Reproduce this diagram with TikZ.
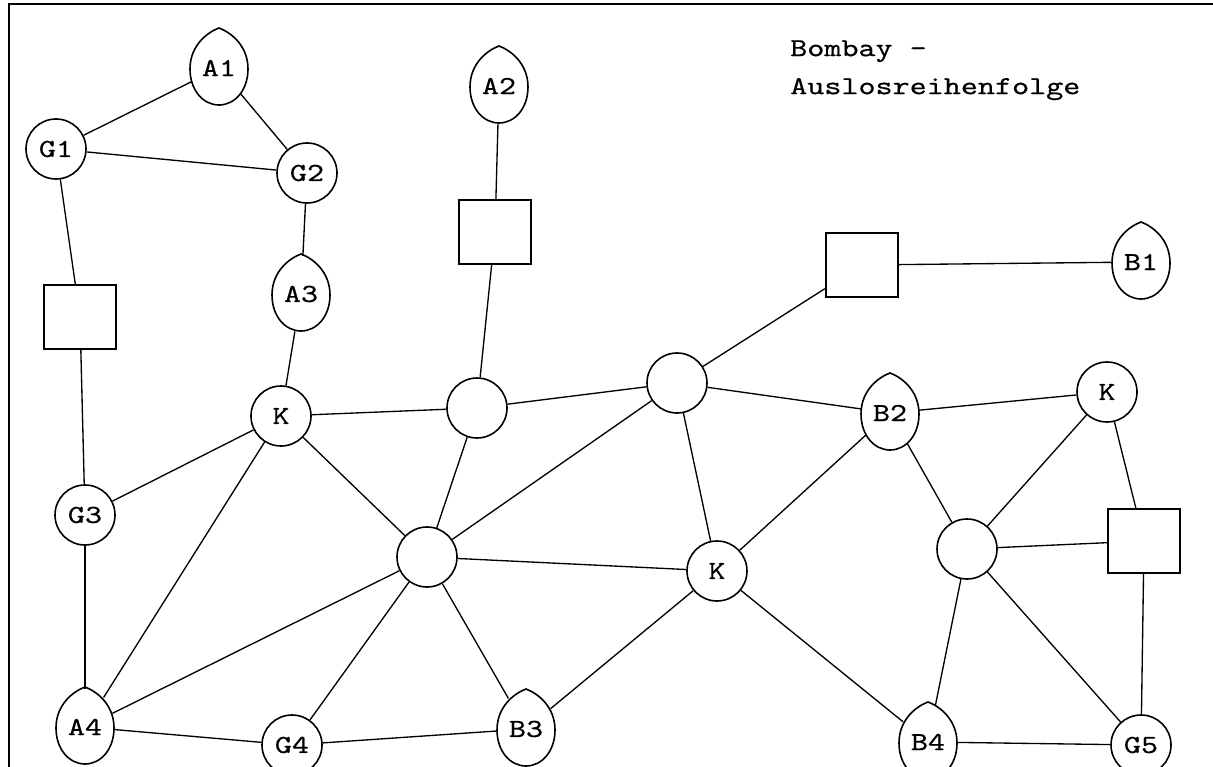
\documentclass[tikz,border=0pt]{standalone}
\usepackage{fontspec}
\setmonofont{lmmono10-regular.otf}[FakeStretch=1.25,FakeBold=0.5]
\usetikzlibrary{calc,shapes.geometric}
\tikzset{
  lbl/.style={font=\ttfamily\fontsize{19.5pt}{22pt}\selectfont},
  circ/.style={circle, draw, line width=1.2pt, minimum size=45pt, inner sep=0pt, lbl},
  sq/.style={rectangle, draw, line width=1.3pt, minimum width=54.5pt, minimum height=48pt, inner sep=0pt},
  dropbase/.style={ellipse, minimum width=43.5pt, minimum height=57pt, inner sep=0pt, lbl},
  dropline/.style={line width=1.2pt},
  edge/.style={line width=1pt},
  frame/.style={line width=1.4pt}
}
\newcommand{\dropnode}[3]{%
  \node[dropbase] (#1) at (#2) {#3};
  \draw[dropline] ($(#1.center)+(0,-40)$)
    .. controls ($(#1.center)+(11,-36)$) and ($(#1.center)+(29,-23)$) .. ($(#1.center)+(29,1)$)
    .. controls ($(#1.center)+(29,22)$) and ($(#1.center)+(16,37)$) .. ($(#1.center)+(0,37)$)
    .. controls ($(#1.center)+(-16,37)$) and ($(#1.center)+(-29,22)$) .. ($(#1.center)+(-29,1)$)
    .. controls ($(#1.center)+(-29,-23)$) and ($(#1.center)+(-11,-36)$) .. cycle;
}
\begin{document}
\begin{tikzpicture}[x=0.75pt,y=-0.75pt]
\useasboundingbox (0,0) rectangle (1213,767);
\draw[frame] (9,767) -- (9,4) -- (1213,4);

\node[lbl, anchor=north west, align=left, inner sep=0pt, font=\ttfamily\fontsize{19.5pt}{28.5pt}\selectfont] (title) at (790,40) {Bombay -\\Auslosreihenfolge};

% drops
\dropnode{A1}{219,68}{A1}
\dropnode{A2}{499,86}{A2}
\dropnode{A3}{301,294}{A3}
\dropnode{A4}{85,727}{A4}
\dropnode{B1}{1141,262}{B1}
\dropnode{B2}{890,413}{B2}
\dropnode{B3}{526,729}{B3}
\dropnode{B4}{928,742}{B4}

% circles
\node[circ] (G1) at (56,149) {G1};
\node[circ] (G2) at (307,173) {G2};
\node[circ] (G3) at (85,515) {G3};
\node[circ] (G4) at (292,745) {G4};
\node[circ] (G5) at (1141,745) {G5};
\node[circ] (K1) at (281,416) {K};
\node[circ] (K2) at (1107,392) {K};
\node[circ] (K3) at (717,571) {K};
\node[circ] (C1) at (477,408) {};
\node[circ] (C2) at (677,383) {};
\node[circ] (C3) at (427,557) {};
\node[circ] (C4) at (967,549) {};

% squares
\node[sq] (S1) at (495,232) {};
\node[sq] (S2) at (80,317) {};
\node[sq] (S3) at (862,265) {};
\node[sq] (S4) at (1144,541) {};

% edges
\draw[edge] (A1) -- (G1);
\draw[edge] (A1) -- (G2);
\draw[edge] (G1) -- (G2);
\draw[edge] (G1) -- (S2);
\draw[edge] (G2) -- (A3);
\draw[edge] (A3) -- (K1);
\draw[edge] (A2) -- (S1);
\draw[edge] (S1) -- (C1);
\draw[edge] (S2) -- (G3);
\draw[edge] (K1) -- (C1);
\draw[edge] (K1) -- (G3);
\draw[edge] (K1) -- (C3);
\draw[edge] (K1) -- (A4);
\draw[edge] (C1) -- (C2);
\draw[edge] (C1) -- (C3);
\draw[edge] (C2) -- (S3);
\draw[edge] (S3) -- (B1);
\draw[edge] (C2) -- (B2);
\draw[edge] (C2) -- (C3);
\draw[edge] (C2) -- (K3);
\draw[edge] (B2) -- (K2);
\draw[edge] (B2) -- (K3);
\draw[edge] (B2) -- (C4);
\draw[edge] (K2) -- (C4);
\draw[edge] (K2) -- (S4);
\draw[edge] (C4) -- (S4);
\draw[edge] (C4) -- (B4);
\draw[edge] (C4) -- (G5);
\draw[edge] (S4) -- (G5);
\draw[edge] (G3) -- (A4);
\draw[edge] (C3) -- (A4);
\draw[edge] (C3) -- (G4);
\draw[edge] (C3) -- (B3);
\draw[edge] (C3) -- (K3);
\draw[edge] (K3) -- (B3);
\draw[edge] (K3) -- (B4);
\draw[edge] (A4) -- (G4);
\draw[edge] (G4) -- (B3);
\draw[edge] (B4) -- (G5);
\end{tikzpicture}
\end{document}
